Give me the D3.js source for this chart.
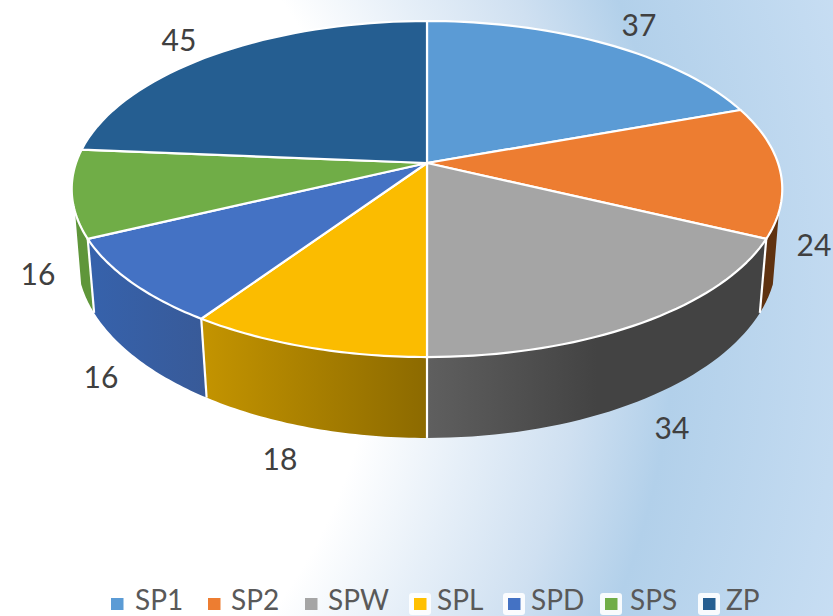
<!DOCTYPE html>
<html><head><meta charset="utf-8"><style>html,body{margin:0;padding:0;background:#fff}svg{display:block}text{font-family:Lato,"Open Sans",sans-serif}</style>
<script src="https://cdnjs.cloudflare.com/ajax/libs/d3/7.8.5/d3.min.js"></script></head><body>
<svg id="c" width="833" height="616"></svg>
<script>
const categories=["SP1","SP2","SPW","SPL","SPD","SPS","ZP"];
const values=[37,24,34,18,16,16,45];
const topColors=["#5B9BD5","#ED7D31","#A5A5A5","#FBBC00","#4472C4","#70AD47","#255E91"];
const legendColors=["#5B9BD5","#ED7D31","#A5A5A5","#FFC000","#4472C4","#70AD47","#255E91"];
const sideLeft=["#4a80b0","#5f3210","#5f5f5f","#c49400","#3662ac","#5f963a","#1d4a72"];
const sideRight=["#4a80b0","#5f3210","#434343","#8c6a00","#385a98","#5f963a","#1d4a72"];
const labelXY=[[639,26],[814,246],[672,429],[280,460],[101,378],[38,275],[179,41]];
const legendX=[[111,135],[208,231],[305,328],[414,437],[508,531],[605,630],[703,726]];

const svg=d3.select("#c"),defs=svg.append("defs");
const bg=defs.append("radialGradient").attr("id","bg").attr("gradientUnits","userSpaceOnUse")
 .attr("cx",-138).attr("cy",300).attr("r",1030);
[[0,"#ffffff"],[0.5,"#ffffff"],[0.6,"#e6eff8"],[0.7,"#cfe0f1"],[0.79,"#b2d0ea"],[1,"#c8def3"]].forEach(s=>bg.append("stop").attr("offset",s[0]).attr("stop-color",s[1]));
svg.append("rect").attr("width",833).attr("height",616).attr("fill","url(#bg)");

const scaleTop=p=>{const u=Math.sin(p),v=-Math.cos(p),d=1-0.1548*v;return [427+351*u/d,163+164*v/d];};
const scaleBot=p=>{const u=Math.sin(p),v=-Math.cos(p),d=1-0.1446*v;return [427+346*u/d,231.6+176.5*v/d];};
const arcs=d3.pie().sort(null).value(d=>d)(values);
const visFrom=106.6*Math.PI/180,visTo=253.4*Math.PI/180;
const range=(a,b)=>d3.range(0,41).map(i=>a+(b-a)*i/40);
const line=d3.line().curve(d3.curveLinear);

// side walls
arcs.forEach((d,i)=>{
 const a=Math.max(d.startAngle,visFrom),b=Math.min(d.endAngle,visTo);
 if(b<=a)return;
 const ts=range(a,b);
 const pts=ts.map(scaleTop).concat(ts.slice().reverse().map(scaleBot));
 const x0=d3.min(pts,p=>p[0]),x1=d3.max(pts,p=>p[0]);
 const g=defs.append("linearGradient").attr("id","s"+i).attr("gradientUnits","userSpaceOnUse").attr("x1",x0).attr("x2",x1).attr("y1",0).attr("y2",0);
 g.append("stop").attr("offset",0).attr("stop-color",sideLeft[i]);
 g.append("stop").attr("offset",i==2?0.5:1).attr("stop-color",sideRight[i]);
 svg.append("path").attr("d",line(pts)+"Z").attr("fill",`url(#s${i})`);
 if(d.startAngle>=visFrom&&d.startAngle<=visTo)
  svg.append("path").attr("d",line([scaleTop(d.startAngle),scaleBot(d.startAngle)])).attr("stroke","#fff").attr("stroke-width",2.2).attr("fill","none");
});
// top faces
arcs.forEach((d,i)=>{
 const ts=range(d.startAngle,d.endAngle);
 svg.append("path").attr("d",line([[427,163]].concat(ts.map(scaleTop)))+"Z")
  .attr("fill",topColors[i]).attr("stroke","#fff").attr("stroke-width",2.2).attr("stroke-linejoin","round");
});
// data labels
arcs.forEach((d,i)=>svg.append("text").attr("x",labelXY[i][0]).attr("y",labelXY[i][1]+10).attr("text-anchor","middle").attr("font-size",30).attr("fill","#404040").text(values[i]));
// legend
categories.forEach((c,i)=>{
 if(i>2) svg.append("rect").attr("x",legendX[i][0]-5).attr("y",593).attr("width",22).attr("height",22).attr("rx",3).attr("fill","#fff").attr("opacity",0.9);
 svg.append("rect").attr("x",legendX[i][0]).attr("y",598).attr("width",12.5).attr("height",12).attr("fill",legendColors[i]);
 svg.append("text").attr("x",legendX[i][1]).attr("y",610).attr("font-size",28).attr("fill","#595959").text(c);
});
</script></body></html>
